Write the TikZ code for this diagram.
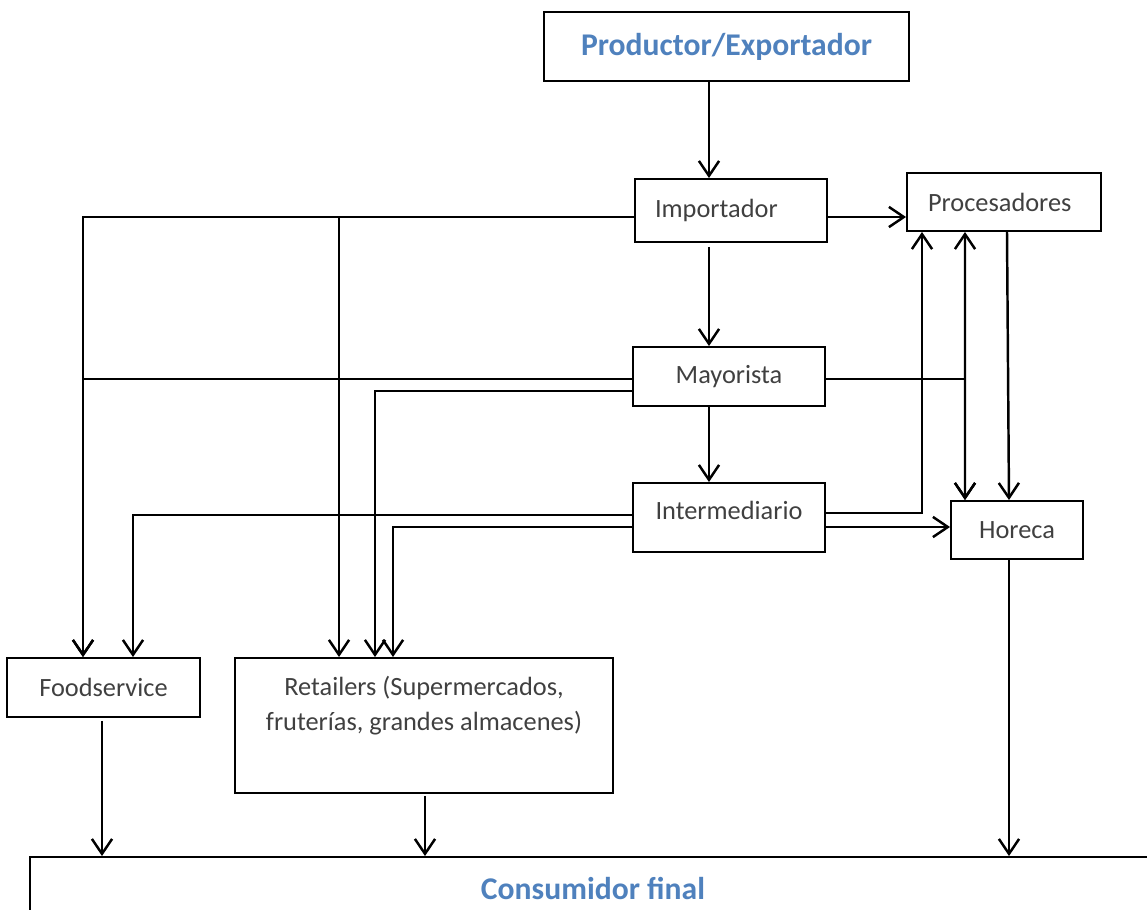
\documentclass[tikz,border=0pt]{standalone}
\usepackage{fontspec}
\setmainfont{Carlito}
\usepackage{xcolor}
\usetikzlibrary{arrows.meta,positioning,calc}

\definecolor{gristexto}{HTML}{404040}
\definecolor{azultitulo}{HTML}{4F81BD}

\tikzset{
    caja/.style={draw, line width=1.1pt, text=gristexto, font=\fontsize{15}{20}\selectfont,
        minimum height=1.18cm, inner sep=0pt},
    titulo/.style={caja, text=azultitulo, font=\fontsize{18}{22}\selectfont\bfseries},
    flecha/.style={draw, line width=1.4pt, ->}
}

\begin{document}
\begin{tikzpicture}[x=0.02cm, y=-0.02cm, >={Straight Barb[length=8.5pt,width=11.5pt]}]
    \useasboundingbox (0,0) rectangle (1147,910);
    \clip (0,0) rectangle (1147,910);

    \node[titulo, minimum width=7.30cm, minimum height=1.38cm] (prod) at (726.5,46.5) {Productor/Exportador};
    \node[caja, minimum height=1.26cm, inner xsep=0.4cm, text width=3.04cm, align=left] (imp) at (731,210.5) {Importador};
    \node[caja, minimum height=1.16cm, inner xsep=0.42cm, text width=3.04cm, align=left] (proc) at (1004,202) {Procesadores};
    \node[caja, minimum width=3.84cm] (may) at (729,376.5) {Mayorista};
    \node[caja, minimum width=3.84cm, minimum height=1.38cm, text depth=0.28cm] (inter) at (729,517.5) {Intermediario};
    \node[caja, minimum width=2.64cm, minimum height=1.16cm] (hor) at (1017,530) {Horeca};
    \node[caja, minimum width=3.86cm] (food) at (103.5,687.5) {Foodservice};
    \node[caja, anchor=north, minimum width=7.56cm, text height=1.46cm, text depth=1.24cm, align=center] (ret) at (424,657)
        {Retailers (Supermercados,\\ fruterías, grandes almacenes)};
    \node[titulo, minimum width=22.52cm, minimum height=1.24cm] (cons) at (593,888) {Consumidor final};

    \draw[flecha] ([xshift=-0.35cm]prod.south) -- ([xshift=-0.35cm]prod.south |- imp.north);
    \draw[flecha] ([xshift=-0.44cm,yshift=-0.08cm]imp.south) -- ([xshift=-0.44cm]imp.south |- may.north);
    \draw[flecha] ([yshift=-0.13cm]imp.east) -- ([yshift=-0.13cm]imp.east -| proc.west);
    \draw[flecha] ([yshift=-0.13cm]imp.west) -| ([xshift=-0.41cm]food.north);
    \draw[flecha] ([yshift=-0.13cm]imp.west) -| ([xshift=-1.70cm]ret.north);

    \draw[flecha] ([yshift=-0.05cm]may.west) -| ([xshift=-0.41cm]food.north);
    \draw[flecha] ([yshift=-0.29cm]may.west) -| ([xshift=-0.98cm]ret.north);
    \draw[flecha] ([yshift=-0.05cm]may.east) -| ([xshift=-1.04cm]hor.north);
    \draw[flecha] ([xshift=-0.40cm]may.south) -- ([xshift=-0.40cm]may.south |- inter.north);

    \draw[flecha] ([yshift=0.05cm]inter.west) -| ([xshift=0.59cm]food.north);
    \draw[flecha] ([yshift=-0.19cm]inter.west) -| ([xshift=-0.62cm]ret.north);
    \draw[flecha] ([yshift=0.09cm]inter.east) -| ([xshift=-1.64cm]proc.south);
    \draw[flecha] ([yshift=-0.19cm]inter.east) -- ([yshift=-0.19cm]inter.east -| hor.west);

    \draw[flecha, <->] ([xshift=-0.78cm]proc.south) -- ([xshift=-1.04cm]hor.north);
    \draw[flecha] ([xshift=0.06cm]proc.south) -- ([xshift=-0.16cm]hor.north);

    \draw[flecha] ([xshift=-0.16cm]hor.south) -- ([xshift=-0.16cm]hor.south |- cons.north);
    \draw[flecha] ([xshift=-0.03cm,yshift=-0.06cm]food.south) -- ([xshift=-0.03cm]food.south |- cons.north);
    \draw[flecha] ([xshift=0.02cm,yshift=-0.04cm]ret.south) -- ([xshift=0.02cm]ret.south |- cons.north);
\end{tikzpicture}
\end{document}
